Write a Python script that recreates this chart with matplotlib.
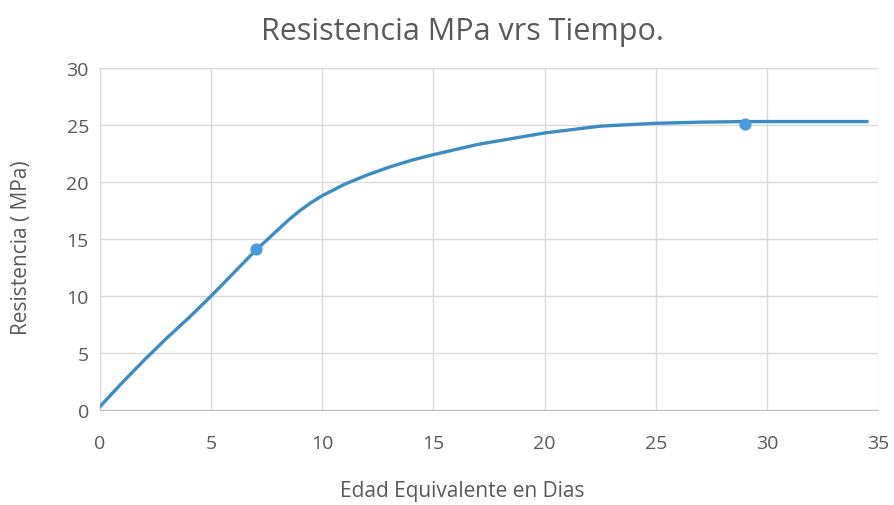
import matplotlib
matplotlib.use("Agg")
import matplotlib.pyplot as plt

# Curva de resistencia
dias = [0, 1, 2, 3, 4, 5, 6, 7, 7.5, 8, 8.5, 9, 9.5, 10, 10.5, 11, 12, 13, 14, 15, 17, 20,
        22.5, 25, 27, 29, 31, 34.5]
resistencia = [0.3, 2.4, 4.4, 6.3, 8.1, 10.0, 12.0, 14.0, 14.9, 15.8, 16.7, 17.5, 18.2, 18.8,
               19.3, 19.8, 20.6, 21.3, 21.9, 22.4, 23.3, 24.3, 24.9, 25.15, 25.25, 25.3,
               25.3, 25.3]

# Puntos medidos
dias_medidos = [7, 29]
resistencia_medida = [14.1, 25.1]

texto = "#595959"
plt.rcParams["font.family"] = ["Open Sans", "DejaVu Sans"]

fig = plt.figure(figsize=(8.95, 5.06), dpi=100)
ax = fig.add_axes([100 / 895, 1 - 411 / 506, 778 / 895, 342 / 506])

ax.plot(dias, resistencia, color="#3A8DC2", linewidth=2.4, zorder=3)
ax.scatter(dias_medidos, resistencia_medida, s=60, color="#4A9BDE", zorder=4)

ax.set_xlim(0, 35)
ax.set_ylim(0, 30)
ax.set_xticks(range(0, 36, 5))
ax.set_yticks(range(0, 31, 5))
ax.grid(True, color="#D9D9D9", linewidth=1)
ax.set_axisbelow(True)
for s in ["top", "right", "left"]:
    ax.spines[s].set_visible(False)
ax.spines["bottom"].set_color("#BFBFBF")
ax.tick_params(length=0, colors=texto, labelsize=14)
ax.tick_params(axis="x", pad=17)
ax.tick_params(axis="y", pad=8)

fig.text(462 / 895, 1 - 492 / 506, "Edad Equivalente en Dias", ha="center", va="center",
         color=texto, fontsize=15)
fig.text(22 / 895, 1 - 248 / 506, "Resistencia ( MPa)", ha="center", va="center",
         rotation=90, color=texto, fontsize=15)
fig.text(462 / 895, 1 - 32 / 506, "Resistencia MPa vrs Tiempo.", ha="center", va="center",
         color=texto, fontsize=22)

fig.savefig("out.png", dpi=100)
